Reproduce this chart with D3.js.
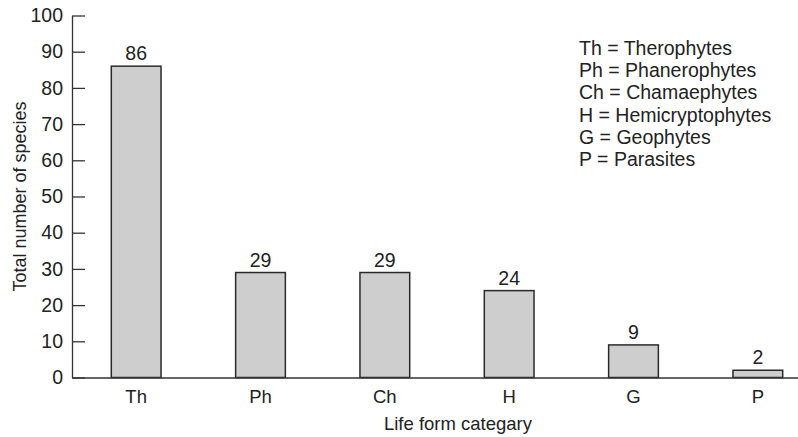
<!DOCTYPE html>
<html>
<head>
<meta charset="utf-8">
<script src="https://cdn.jsdelivr.net/npm/d3@7"></script>
<style>
  body { margin: 0; background: #fff; }
  svg text { font-family: "Liberation Sans", Arial, sans-serif; fill: #222; }
</style>
</head>
<body>
<div id="chart"></div>
<script>
var categories = ["Th", "Ph", "Ch", "H", "G", "P"];
var species = [86, 29, 29, 24, 9, 2];
var yTicks = [0, 10, 20, 30, 40, 50, 60, 70, 80, 90, 100];
var legendLines = ["Th = Therophytes", "Ph = Phanerophytes", "Ch = Chamaephytes",
                   "H = Hemicryptophytes", "G = Geophytes", "P = Parasites"];

var width = 798, height = 437;
var margin = {top: 15.5, left: 72, bottom: 59.5};
var plotH = height - margin.top - margin.bottom;

var svg = d3.select("#chart").append("svg")
    .attr("width", width)
    .attr("height", height);

var g = svg.append("g")
    .attr("transform", "translate(" + margin.left + "," + margin.top + ")");

var xscale = d3.scaleBand()
    .domain(categories)
    .range([0, 750])
    .paddingInner(0.6)
    .paddingOuter(0.316);

var yscale = d3.scaleLinear()
    .domain([0, 100])
    .range([plotH, 0]);

// bars
g.selectAll("rect.bar")
    .data(categories)
    .enter().append("rect")
    .attr("class", "bar")
    .attr("x", function (d) { return xscale(d); })
    .attr("y", function (d, i) { return yscale(species[i]); })
    .attr("width", xscale.bandwidth())
    .attr("height", function (d, i) { return plotH - yscale(species[i]); })
    .attr("fill", "#cececf")
    .attr("stroke", "#2a2a2a")
    .attr("stroke-width", 1.5);

// value labels
g.selectAll("text.val")
    .data(categories)
    .enter().append("text")
    .attr("class", "val")
    .attr("x", function (d) { return xscale(d) + xscale.bandwidth() / 2; })
    .attr("y", function (d, i) { return yscale(species[i]) - 6; })
    .attr("text-anchor", "middle")
    .attr("font-size", 19.5)
    .text(function (d, i) { return species[i]; });

// y axis, ticks pointing inward
var yAxis = g.append("g")
    .call(d3.axisLeft(yscale).tickValues(yTicks).tickSizeInner(-13).tickSizeOuter(0).tickPadding(9));
yAxis.select(".domain").attr("stroke", "#333").attr("stroke-width", 1.3);
yAxis.selectAll(".tick line").attr("stroke", "#333").attr("stroke-width", 1.3);
yAxis.selectAll(".tick text").attr("font-size", 19.5).attr("font-family", "Liberation Sans, Arial, sans-serif").attr("fill", "#222");

// x axis
var xAxis = g.append("g")
    .attr("transform", "translate(0," + plotH + ")")
    .call(d3.axisBottom(xscale).tickSize(0).tickPadding(12));
xAxis.select(".domain").attr("stroke", "#333").attr("stroke-width", 1.3);
xAxis.selectAll(".tick text").attr("font-size", 18.5).attr("font-family", "Liberation Sans, Arial, sans-serif").attr("fill", "#222");

// axis titles
svg.append("text")
    .attr("transform", "translate(26," + (margin.top + plotH / 2) + ") rotate(-90)")
    .attr("text-anchor", "middle")
    .attr("font-size", 18)
    .text("Total number of species");

svg.append("text")
    .attr("x", 458)
    .attr("y", 430)
    .attr("text-anchor", "middle")
    .attr("font-size", 18.5)
    .text("Life form categary");

// legend
svg.append("g").selectAll("text")
    .data(legendLines)
    .enter().append("text")
    .attr("x", 579)
    .attr("y", function (d, i) { return 55 + i * 22.2; })
    .attr("font-size", 19.5)
    .text(function (d) { return d; });
</script>
</body>
</html>
